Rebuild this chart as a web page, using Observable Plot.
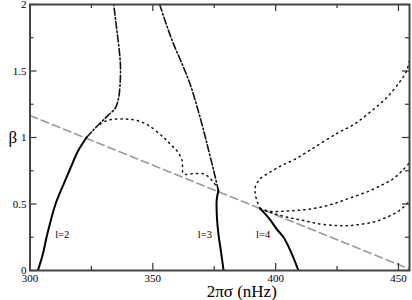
<!DOCTYPE html>
<html>
<head>
<meta charset="utf-8">
<script src="https://cdn.jsdelivr.net/npm/d3@7"></script>
<script src="https://cdn.jsdelivr.net/npm/@observablehq/plot@0.6"></script>
<style>
  html, body { margin: 0; padding: 0; background: #fff; }
  #chart svg { display: block; }
</style>
</head>
<body>
<div id="chart"></div>
<script>
// ---- data (x = 2πσ in nHz, y = β) ----
const xDomain = [300, 454.5];
const yDomain = [0, 2];
const xTicksMajor = [300, 350, 400, 450];
const xTicksMinor = [325, 375, 425];
const yTicksMajor = [0, 0.5, 1, 1.5, 2];
const yTicksMinor = [0.25, 0.75, 1.25, 1.75];
const xTickLabels = ["300", "350", "400", "450"];
const yTickLabels = ["0", "0.5", "1", "1.5", "2"];

const greyLine = [[300, 1.165], [455, 0.007]];

const l2Solid = [[303.2, 0], [305.2, 0.12], [307, 0.27], [310.4, 0.5], [313.7, 0.65], [316.7, 0.78], [319.6, 0.9], [323, 1.0]];
const l2DashDot = [[323, 1.0], [326, 1.06], [328.7, 1.11], [332, 1.17], [334.7, 1.22], [336.1, 1.3], [336.8, 1.45], [336.8, 1.55], [336.2, 1.68], [335.4, 1.8], [334.6, 1.92], [334.1, 2.0]];
const l2Dotted = [[328.5, 1.1], [331, 1.125], [334, 1.137], [337, 1.14], [340, 1.137], [343.6, 1.128], [348.3, 1.09], [354.4, 1.0], [357.1, 0.95], [359.8, 0.9], [361.9, 0.83], [362.5, 0.727], [366, 0.727], [370.6, 0.727], [373.5, 0.69], [376.1, 0.626], [377, 0.597]];

const l3DashDot = [[352.8, 2.0], [355.5, 1.85], [358.5, 1.7], [362, 1.55], [365.2, 1.4], [368.5, 1.2], [371, 1.03], [372.5, 0.92], [374.8, 0.75], [376.7, 0.6]];
const l3Solid = [[376.7, 0.6], [376.0, 0.53], [376.1, 0.4], [376.7, 0.276], [377.7, 0.15], [378.8, 0]];

const l4DottedUpper = [[393.7, 0.465], [392.5, 0.52], [391.7, 0.576], [391.7, 0.627], [393.7, 0.69], [397.8, 0.74], [402.5, 0.79], [407.2, 0.83], [414, 0.905], [424.9, 1.03], [432, 1.1], [438.4, 1.19], [445.2, 1.3], [450.6, 1.42], [453.3, 1.5], [455, 1.62]];
const l4DottedMiddle = [[393.7, 0.465], [397.8, 0.445], [404, 0.447], [411.3, 0.456], [418, 0.475], [424.9, 0.51], [431, 0.55], [438.4, 0.6], [444, 0.65], [447.9, 0.69], [451.5, 0.75], [455, 0.82]];
const l4DottedLower = [[393.7, 0.465], [399, 0.43], [405, 0.4], [411.3, 0.376], [418, 0.35], [424.9, 0.338], [430, 0.338], [435.7, 0.35], [441, 0.37], [445.2, 0.4], [449, 0.435], [452, 0.476], [455, 0.53]];
const l4Solid = [[393.7, 0.465], [396, 0.42], [397.8, 0.38], [400.5, 0.31], [403.2, 0.25], [406, 0.15], [409.3, 0]];

const curveLabels = ["l=2", "l=3", "l=4"];
const curveLabelX = [313.1, 371.2, 394.9];
const curveLabelY = [0.27, 0.27, 0.27];

const xLabel = "2πσ (nHz)";
const yLabel = "β";

// ---- layout ----
const W = 412, H = 300;
const mL = 29.5, mR = 3, mT = 4, mB = 30;
const innerW = W - mL - mR, innerH = H - mT - mB;
const majorLen = 7, minorLen = 4;

const labels = curveLabels.map((t, i) => ({t, x: curveLabelX[i], y: curveLabelY[i]}));
const px = d => d[0], py = d => d[1];
const xFmt = d => xTickLabels[xTicksMajor.indexOf(d)];
const yFmt = d => yTickLabels[yTicksMajor.indexOf(d)];

const dotted = {stroke: "#111", strokeWidth: 1.5, strokeDasharray: "1.3,4.2", clip: true, curve: "catmull-rom"};
const dashDot = {stroke: "#111", strokeWidth: 1.6, strokeDasharray: "7,2.5,1.5,2.5", clip: true, curve: "catmull-rom"};
const solid = {stroke: "#000", strokeWidth: 2, clip: true, curve: "catmull-rom"};
const tickStyle = {stroke: "#333", strokeWidth: 1.2};

const chart = Plot.plot({
  width: W, height: H,
  marginLeft: mL, marginRight: mR, marginTop: mT, marginBottom: mB,
  style: {fontFamily: "'Liberation Serif', 'DejaVu Serif', serif", fontSize: "11px", color: "#000", background: "#fff"},
  x: {domain: xDomain},
  y: {domain: yDomain},
  marks: [
    Plot.line(greyLine, {x: px, y: py, stroke: "#999", strokeWidth: 1.5, strokeDasharray: "8,4", clip: true}),
    Plot.line(l2Dotted, {x: px, y: py, ...dotted}),
    Plot.line(l4DottedUpper, {x: px, y: py, ...dotted}),
    Plot.line(l4DottedMiddle, {x: px, y: py, ...dotted}),
    Plot.line(l4DottedLower, {x: px, y: py, ...dotted}),
    Plot.line(l2DashDot, {x: px, y: py, ...dashDot}),
    Plot.line(l3DashDot, {x: px, y: py, ...dashDot}),
    Plot.line(l2Solid, {x: px, y: py, ...solid}),
    Plot.line(l3Solid, {x: px, y: py, ...solid}),
    Plot.line(l4Solid, {x: px, y: py, ...solid}),
    Plot.text(labels, {x: "x", y: "y", text: "t", fontSize: 10.5, fill: "#000"}),
    // inward ticks: bottom / top
    Plot.tickX(xTicksMajor, {x: d => d, insetTop: innerH - majorLen, ...tickStyle}),
    Plot.tickX(xTicksMinor, {x: d => d, insetTop: innerH - minorLen, ...tickStyle}),
    Plot.tickX(xTicksMajor, {x: d => d, insetBottom: innerH - majorLen, ...tickStyle}),
    Plot.tickX(xTicksMinor, {x: d => d, insetBottom: innerH - minorLen, ...tickStyle}),
    // inward ticks: left / right
    Plot.tickY(yTicksMajor, {y: d => d, insetRight: innerW - majorLen, ...tickStyle}),
    Plot.tickY(yTicksMinor, {y: d => d, insetRight: innerW - minorLen, ...tickStyle}),
    Plot.tickY(yTicksMajor, {y: d => d, insetLeft: innerW - majorLen, ...tickStyle}),
    Plot.tickY(yTicksMinor, {y: d => d, insetLeft: innerW - minorLen, ...tickStyle}),
    Plot.axisX({ticks: xTicksMajor, tickFormat: xFmt, tickSize: 0, tickPadding: 3.5, label: null, fontSize: 11}),
    Plot.axisY({ticks: yTicksMajor, tickFormat: yFmt, tickSize: 0, tickPadding: 3.5, label: null, fontSize: 11}),
    Plot.frame({stroke: "#444", strokeWidth: 2}),
    Plot.text([xLabel], {frameAnchor: "bottom", dx: 22, dy: 21, fontSize: 17, lineAnchor: "middle", fill: "#000"}),
    Plot.text([yLabel], {frameAnchor: "left", dx: -21.5, fontSize: 17, lineAnchor: "middle", fill: "#000"})
  ]
});
document.getElementById("chart").appendChild(chart);
</script>
</body>
</html>
